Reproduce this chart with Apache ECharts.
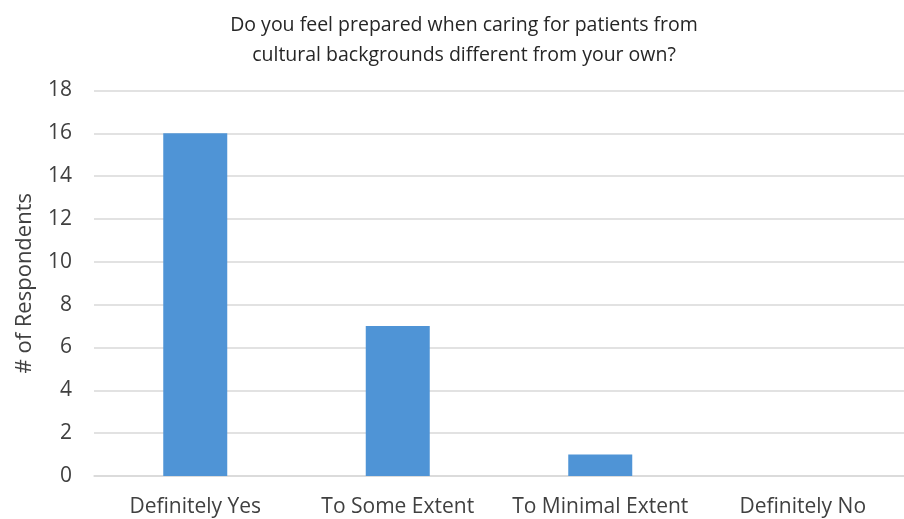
<!DOCTYPE html>
<html><head><meta charset="utf-8">
<script src="https://cdn.jsdelivr.net/npm/echarts@6/dist/echarts.min.js"></script>
<style>html,body{margin:0;padding:0;background:#fff}#c{width:904px;height:519px}</style>
</head><body><div id="c"></div>
<script>
const categories = ["Definitely Yes", "To Some Extent", "To Minimal Extent", "Definitely No"];
const respondents = [16, 7, 1, 0];
const titleText = "Do you feel prepared when caring for patients from\ncultural backgrounds different from your own?";
const yAxisName = "# of Respondents";

const chart = echarts.init(document.getElementById('c'), null, {renderer: 'canvas'});
const FONT = "Open Sans";
chart.setOption({
  animation: false,
  title: {
    text: titleText, left: 459, top: 5, textAlign: 'center',
    textStyle: {fontFamily: FONT, fontSize: 19.5, fontWeight: 'normal', color: '#262626', lineHeight: 30}
  },
  grid: {left: 94, top: 90.5, width: 820, height: 385.5, containLabel: false},
  xAxis: {
    type: 'category', data: categories,
    axisLine: {show: true, lineStyle: {color: '#d9d9d9', width: 1.5}},
    axisTick: {show: false},
    axisLabel: {interval: 0, hideOverlap: false, fontFamily: FONT, fontSize: 21, color: '#404040', margin: 21}
  },
  yAxis: {
    type: 'value', min: 0, max: 18, interval: 2,
    name: yAxisName, nameLocation: 'middle', nameGap: 58, nameRotate: 90,
    nameTextStyle: {fontFamily: FONT, fontSize: 22, color: '#404040'},
    axisLine: {show: false}, axisTick: {show: false},
    axisLabel: {fontFamily: FONT, fontSize: 21, color: '#404040', margin: 22},
    splitLine: {lineStyle: {color: '#d9d9d9', width: 1.5}}
  },
  series: [{
    type: 'bar', data: respondents, barWidth: 64,
    itemStyle: {color: '#4f94d6'}
  }]
});
</script></body></html>
